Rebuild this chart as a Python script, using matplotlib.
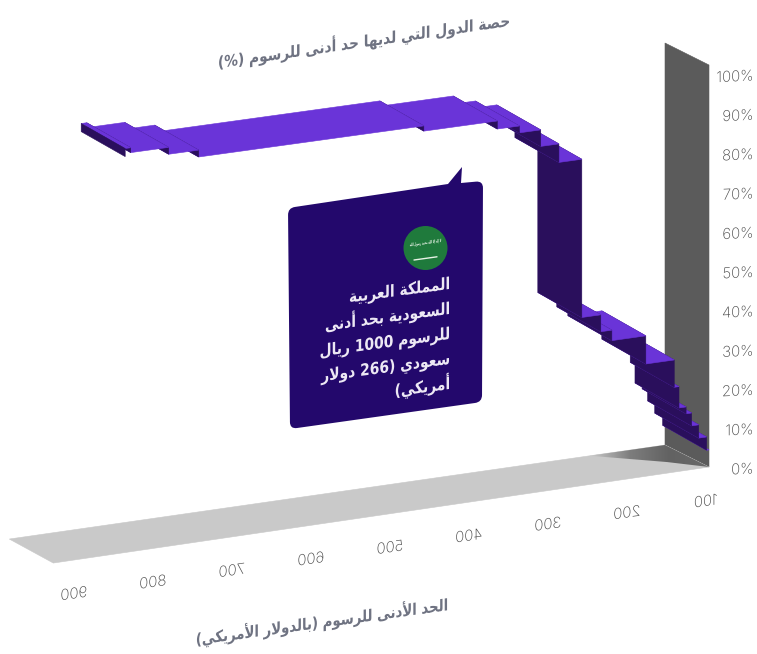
import re
import unicodedata
import numpy as np
import matplotlib
matplotlib.use("Agg")
import matplotlib.pyplot as plt
from matplotlib.colors import LinearSegmentedColormap, to_rgba
from matplotlib.font_manager import FontProperties
from matplotlib.patches import PathPatch, Polygon
from matplotlib.path import Path
from matplotlib.text import Text
from matplotlib.textpath import TextPath
from matplotlib.transforms import Affine2D

# step curve: share of countries per minimum fee band (USD)
fee_edges = [96, 99, 109, 118, 125, 134, 140, 176, 219, 233, 257, 286, 309, 336, 364, 457, 742, 780, 828, 835]
share_values = [5.0, 8.3, 11.6, 14.8, 16.5, 21.8, 28.6, 35.6, 38.2, 42.4, 81.7, 86.3, 90.4, 92.1, 94.1, 95.4, 97.1, 98.8, 100.0]
end_share = 98.0

fee_ticks = [100, 200, 300, 400, 500, 600, 700, 800, 900]
share_ticks = [0, 10, 20, 30, 40, 50, 60, 70, 80, 90, 100]

y_title = "حصة الدول التي لديها حد أدنى للرسوم (%)"
x_title = "الحد الأدنى للرسوم (بالدولار الأمريكي)"
note_lines = ["المملكة العربية", "السعودية بحد أدنى", "للرسوم 1000 ريال", "سعودي (266 دولار", "أمريكي)"]
flag_text = "لا إله إلا الله محمد رسول الله"

FEE_MIN, FEE_MAX = 96, 926
TOP_COLOR = "#6a34d8"
RISER_COLOR = "#2a0f5c"
FLOOR_COLOR = "#c9c9c9"
WALL_COLOR = "#5b5b5b"
NOTE_COLOR = "#23086c"
LABEL_COLOR = "#484848"
TITLE_COLOR = "#6f7382"


def project(fee, d, z, dy=None):
    # oblique view: fee runs right to left, d goes back (0) to front (1), z is up
    t = (fee - FEE_MIN) / (FEE_MAX - FEE_MIN)
    if dy is None:
        dy = 22 + 2 * t
    x = 665 - 0.79 * (fee - FEE_MIN) + 44 * d
    y = 445 + 0.1133 * (fee - FEE_MIN) + dy * d - 4.02 * (1 + 0.009 * t) * z
    return x, y


def shape_arabic(s):
    # no text shaping in matplotlib, so pick presentation forms and lay out right to left
    def form(ch, kind):
        try:
            return unicodedata.lookup(unicodedata.name(ch) + " " + kind + " FORM")
        except KeyError:
            return None

    def is_ar(ch):
        return "\u0621" <= ch <= "\u064a"

    out = []
    i = 0
    prev_joins = False
    while i < len(s):
        ch = s[i]
        if not is_ar(ch):
            out.append(ch)
            prev_joins = False
            i += 1
            continue
        nxt = s[i + 1] if i + 1 < len(s) else ""
        if ch == "ل" and nxt in ("ا", "أ", "إ"):
            suffix = {"ا": "", "أ": " WITH HAMZA ABOVE", "إ": " WITH HAMZA BELOW"}[nxt]
            kind = "FINAL" if prev_joins else "ISOLATED"
            out.append(unicodedata.lookup("ARABIC LIGATURE LAM WITH ALEF" + suffix + " " + kind + " FORM"))
            prev_joins = False
            i += 2
            continue
        joins_next = form(ch, "INITIAL") is not None and is_ar(nxt)
        if prev_joins and joins_next:
            out.append(form(ch, "MEDIAL"))
        elif prev_joins:
            out.append(form(ch, "FINAL"))
        elif joins_next:
            out.append(form(ch, "INITIAL"))
        else:
            out.append(form(ch, "ISOLATED"))
        prev_joins = joins_next
        i += 1

    # visual order, digit runs stay left to right
    tokens = re.findall(r"\d+|.", "".join(out))
    swap = {"(": ")", ")": "("}
    return "".join(swap.get(tok, tok) for tok in reversed(tokens))


class PlaneText(Text):
    # text lying on a slanted (optionally mirrored) plane, drawn from its outline
    def __init__(self, x, y, text, size_px, slope=0.14, mirror=False, arabic=False,
                 align="center", baseline=False, xscale=1.0, **kwargs):
        super().__init__(x, y, text, ha=align, va="baseline" if baseline else "center",
                         **kwargs)
        self.size_px = size_px
        self.slope = slope
        self.mirror = mirror
        self.arabic = arabic
        self.align = align
        self.baseline = baseline
        self.xscale = xscale

    def outline(self):
        s = shape_arabic(self.get_text()) if self.arabic else self.get_text()
        tp = TextPath((0, 0), s, size=self.size_px, prop=self.get_fontproperties())
        box = tp.get_extents()
        ax_x = {"left": box.x0, "right": box.x1, "center": (box.x0 + box.x1) / 2}[self.align]
        ax_y = 0 if self.baseline else (box.y0 + box.y1) / 2
        px, py = self.get_transform().transform(self.get_unitless_position())
        tr = Affine2D().translate(-ax_x, -ax_y).scale(self.xscale, 1)
        if self.mirror:
            tr.scale(-1, 1)
        tr += Affine2D.from_values(1, self.slope, 0, 1, px, py)
        return tp, tr

    def draw(self, renderer):
        tp, tr = self.outline()
        gc = renderer.new_gc()
        gc.set_linewidth(0)
        renderer.draw_path(gc, tp, tr, rgbFace=to_rgba(self.get_color()))
        gc.restore()

    def get_window_extent(self, renderer=None, dpi=None):
        tp, tr = self.outline()
        return tp.get_extents(tr)


def face(pts, color, lw=0.4):
    ax.add_patch(Polygon(pts, closed=True, facecolor=color, edgecolor=color, linewidth=lw))


def rounded_path(pts, r):
    # closed polygon with the corners given as (x, y, round?) rounded by r
    verts, codes = [], []
    n = len(pts)
    for i in range(n):
        p = np.array(pts[i][:2], float)
        if pts[i][2]:
            a = np.array(pts[i - 1][:2], float)
            b = np.array(pts[(i + 1) % n][:2], float)
            p0 = p + (a - p) / np.linalg.norm(a - p) * r
            p1 = p + (b - p) / np.linalg.norm(b - p) * r
            verts += [p0, p, p1]
            codes += [Path.LINETO, Path.CURVE3, Path.CURVE3]
        else:
            verts.append(p)
            codes.append(Path.LINETO)
    codes[0] = Path.MOVETO
    verts.append(verts[0])
    codes.append(Path.CLOSEPOLY)
    return Path(verts, codes)


fig = plt.figure(figsize=(7.57, 6.54), dpi=100)
ax = fig.add_axes([0, 0, 1, 1])
ax.set_xlim(0, 757)
ax.set_ylim(654, 0)
ax.axis("off")

# wall and floor
face([project(FEE_MIN, 0, 0), project(FEE_MIN, 1, 0), project(FEE_MIN, 1, 100), project(FEE_MIN, 0, 100)], WALL_COLOR)
face([project(FEE_MIN, 0, 0), project(FEE_MIN, 1, 0), project(FEE_MAX, 1, 0), project(FEE_MAX, 0, 0)], FLOOR_COLOR)

# wall shadow on the floor
shadow_pts = [project(191, 0, 0), project(FEE_MIN, 0, 0), project(FEE_MIN, 1, 0), project(127.5, 0.61, 0)]
shadow_patch = Polygon(shadow_pts, closed=True, transform=ax.transData, facecolor="none", edgecolor="none")
ax.add_patch(shadow_patch)
shadow_cmap = LinearSegmentedColormap.from_list("shadow", [FLOOR_COLOR, "#7d7d7d", "#626262", "#6a6a6a"])
xs = [p[0] for p in shadow_pts]
ys = [p[1] for p in shadow_pts]
im = ax.imshow(np.linspace(0, 1, 128).reshape(1, -1), cmap=shadow_cmap, aspect="auto",
               extent=(min(xs), max(xs), max(ys), min(ys)), zorder=1)
im.set_clip_path(shadow_patch)
ax.set_xlim(0, 757)
ax.set_ylim(654, 0)

# ribbon, painted from the low fees towards the viewer
RIBBON_DY = 25
for i, z in enumerate(share_values):
    f0, f1 = fee_edges[i], fee_edges[i + 1]
    if i > 0:
        z0 = share_values[i - 1]
        face([project(f0, 0, z0, RIBBON_DY), project(f0, 1, z0, RIBBON_DY),
              project(f0, 1, z, RIBBON_DY), project(f0, 0, z, RIBBON_DY)], RISER_COLOR)
    face([project(f0, 0, z, RIBBON_DY), project(f0, 1, z, RIBBON_DY),
          project(f1, 1, z, RIBBON_DY), project(f1, 0, z, RIBBON_DY)], TOP_COLOR)
f_end = fee_edges[-1]
face([project(f_end, 0, end_share, RIBBON_DY), project(f_end, 1, end_share, RIBBON_DY),
      project(f_end, 1, share_values[-1], RIBBON_DY), project(f_end, 0, share_values[-1], RIBBON_DY)], RISER_COLOR)

# axis tick labels: the fee axis reads mirrored, as seen from behind
num_font = FontProperties(family="Inter", weight="light")
for fee in fee_ticks:
    x, y = project(fee, 1, 0)
    ax.add_artist(PlaneText(x, y + 33, str(fee), 15, slope=0.14, mirror=True, color=LABEL_COLOR,
                            fontproperties=num_font))
for share in share_ticks:
    ax.add_artist(PlaneText(752, 468 - 3.93 * share, f"{share}%", 15, slope=0.05, align="right",
                            color=LABEL_COLOR, fontproperties=num_font))

# axis titles
title_font = FontProperties(family="DejaVu Sans", weight="bold")
ax.add_artist(PlaneText(364, 41, y_title, 16, slope=0.144, arabic=True, xscale=0.86, color=TITLE_COLOR,
                        fontproperties=title_font))
ax.add_artist(PlaneText(322, 622, x_title, 16, slope=0.138, arabic=True, xscale=0.83, color=TITLE_COLOR,
                        fontproperties=title_font))

# callout with its tail
note_pts = [(288, 208, True), (448, 184, False), (462, 167, False), (461, 183, False), (483, 181, True),
            (482, 402, True), (290, 429, True)]
ax.add_patch(PathPatch(rounded_path(note_pts, 7), facecolor=NOTE_COLOR, edgecolor="none"))

# flag badge
ax.add_patch(plt.Circle((425.5, 248), 22, facecolor="#1f7a3c", edgecolor="none"))
ax.add_artist(PlaneText(425.5, 243, flag_text, 4.4, slope=0.14, arabic=True, xscale=0.5, color="#e8f2e6",
                        fontproperties=title_font))
ax.plot([414, 437], [260, 256.8], color="#e8f2e6", lw=1.0, solid_capstyle="round")

note_baselines = [289, 314, 339, 364, 389]
for line, y in zip(note_lines, note_baselines):
    ax.add_artist(PlaneText(449, y, line, 16.5, slope=0.135, arabic=True, align="right", baseline=True,
                            xscale=0.84, color="#ece8f4", fontproperties=title_font))

fig.savefig("out.png", dpi=100, facecolor="white")
